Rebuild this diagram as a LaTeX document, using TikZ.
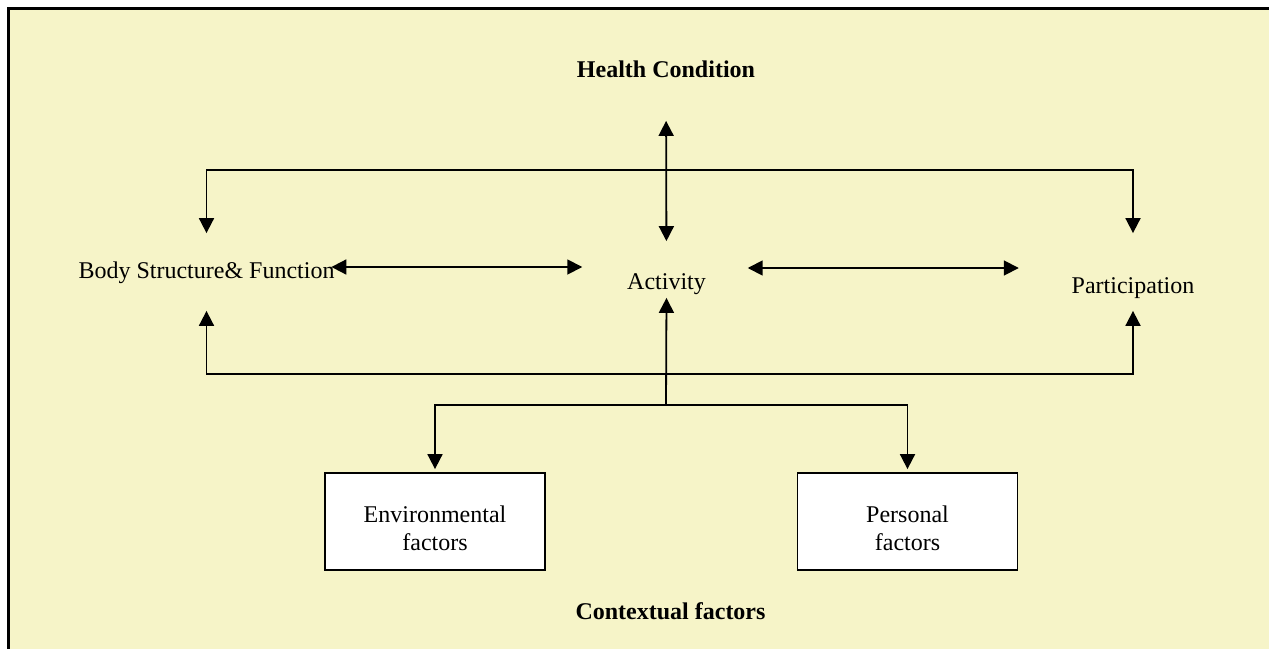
\documentclass[tikz,border=0pt]{standalone}
\usepackage{fontspec}
\setmainfont{Liberation Serif}
\usetikzlibrary{arrows.meta}
\definecolor{bgyellow}{RGB}{246,244,200}
\begin{document}
\begin{tikzpicture}[>={Triangle[length=7.5pt,width=7.5pt]}, x=0.5pt, y=-0.5pt, line width=0.9pt,
                lbl/.style={inner sep=0pt, anchor=base, text height=9pt, text depth=3pt, font=\fontsize{12}{14}\selectfont},
                head/.style={lbl, font=\fontsize{12}{14}\selectfont\bfseries},
                factor/.style={draw, fill=white, minimum width=110pt, minimum height=48.5pt, align=center,
                    text height=28.5pt, text depth=0pt, font=\fontsize{12}{14}\selectfont}]
                \useasboundingbox (0,0) rectangle (1269,648);
                \draw[fill=bgyellow, line width=1.5pt] (8,8) rectangle (1300,680);
                \node[head] (hc) at (666,77) {Health Condition};
                \node[lbl] (body) at (206.5,278) {Body Structure\& Function};
                \node[lbl] (act) at (666.5,289) {Activity};
                \node[lbl] (part) at (1133,293) {Participation};
                \node[factor] (env) at (435,521.5) {Environmental\\factors};
                \node[factor] (pers) at (907.5,521.5) {Personal\\factors};
                \node[head] (ctx) at (670.5,619) {Contextual factors};
                \coordinate (top) at (666,170);
                \coordinate (bot) at (666,374);
                \coordinate (fork) at (666,405);
                % links between the three levels
                \draw[<->, shorten <=18.5pt, shorten >=14.5pt] (hc.south) -- (act.north);
                \draw[<->, shorten <=13pt, shorten >=20.5pt] (body.north) |- (top) -| (part.north);
                \draw[<->, shorten <=13pt, shorten >=5.5pt] (body.south) |- (bot) -| (part.south);
                \draw[<->, shorten <=-2pt, shorten >=22pt] ([yshift=2.5pt]body.east) -- ([yshift=2.5pt]body.east -| act.west);
                \draw[<->, shorten <=20.5pt, shorten >=26pt] ([yshift=7.5pt]act.east) -- ([yshift=7.5pt]act.east -| part.west);
                % contextual factors
                \draw[->, shorten >=1pt] (fork) -- (act.south);
                \draw[->, shorten >=1.5pt] (fork) -| (env.north);
                \draw[->, shorten >=1.5pt] (fork) -| (pers.north);
            \end{tikzpicture}
\end{document}
